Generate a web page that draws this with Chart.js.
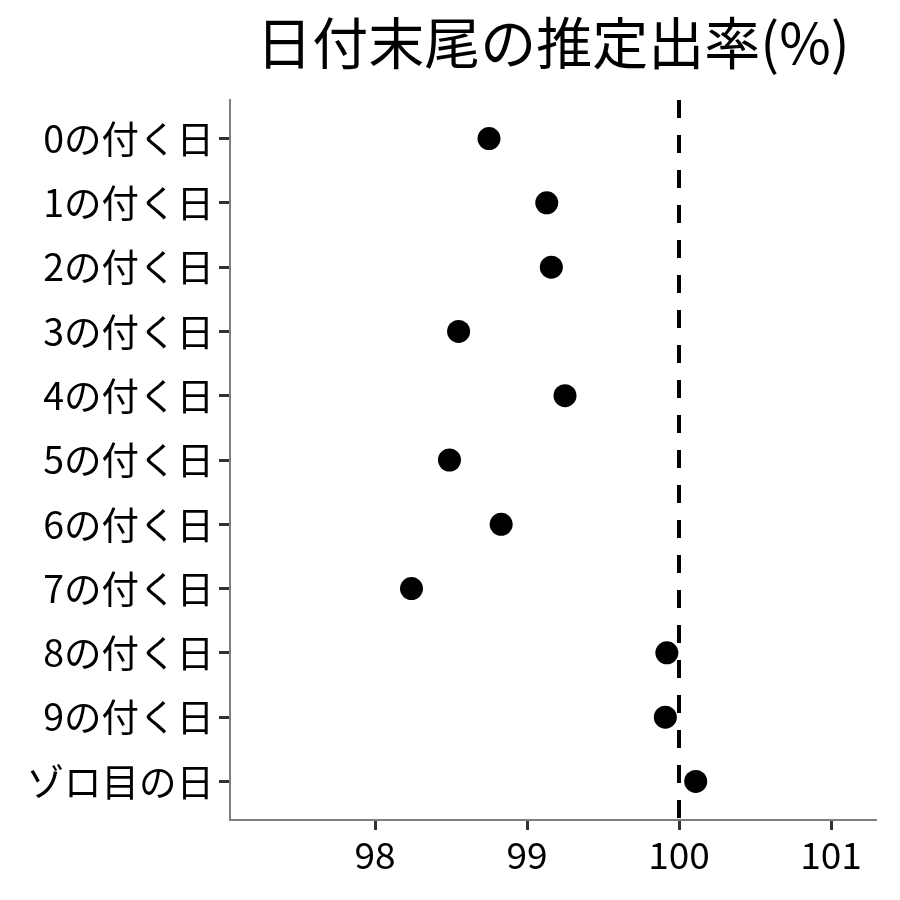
<!DOCTYPE html>
<html>
<head>
<meta charset="utf-8">
<script src="https://cdn.jsdelivr.net/npm/chart.js@4/dist/chart.umd.min.js"></script>
<style>
  html, body { margin: 0; padding: 0; background: #fff; }
  #chart { display: block; }
</style>
</head>
<body>
<canvas id="chart" width="900" height="900"></canvas>
<script>
var dayLabels = ["0の付く日", "1の付く日", "2の付く日", "3の付く日", "4の付く日", "5の付く日",
                 "6の付く日", "7の付く日", "8の付く日", "9の付く日", "ゾロ目の日"];
var payoutRates = [98.75, 99.13, 99.16, 98.55, 99.25, 98.49, 98.83, 98.24, 99.92, 99.91, 100.11];
var xTicks = [98, 99, 100, 101];
var refLine = 100;

var fontFamily = "'Noto Sans CJK JP', 'Noto Sans', sans-serif";

var points = payoutRates.map((v, i) => ({ x: v, y: i }));

new Chart(document.getElementById("chart").getContext("2d"), {
    type: "scatter",
    data: {
        datasets: [{
            data: points,
            backgroundColor: "#000",
            borderWidth: 0,
            pointRadius: 11.5,
            pointHoverRadius: 11.5,
            order: 1
        }, {
            type: "line",
            data: [{ x: refLine, y: -0.6 }, { x: refLine, y: 10.6 }],
            borderColor: "#000",
            borderWidth: 4,
            borderDash: [18, 17],
            pointRadius: 0,
            fill: false,
            order: 2
        }]
    },
    options: {
        responsive: false,
        animation: false,
        layout: {
            padding: { left: 0, right: 24, top: 0, bottom: 0 }
        },
        plugins: {
            legend: { display: false },
            tooltip: { enabled: false },
            title: {
                display: true,
                text: "日付末尾の推定出率(%)",
                fullSize: false,
                color: "#000",
                font: { family: fontFamily, size: 56, weight: "normal", lineHeight: 1.2 },
                padding: { top: 9, bottom: 23.8 }
            }
        },
        scales: {
            x: {
                type: "linear",
                min: 97.046,
                max: 101.296,
                afterBuildTicks: (scale) => {
                    scale.ticks = xTicks.map((v) => ({ value: v }));
                },
                afterFit: (scale) => { scale.height = 80; },
                grid: {
                    drawOnChartArea: false,
                    drawTicks: true,
                    tickLength: 10,
                    tickColor: "#333",
                    tickWidth: 3
                },
                border: { color: "#7f7f7f", width: 2 },
                ticks: {
                    color: "#000",
                    padding: 3,
                    font: { family: fontFamily, size: 37 },
                    callback: (v) => v
                }
            },
            y: {
                type: "linear",
                min: -0.6,
                max: 10.6,
                reverse: true,
                afterBuildTicks: (scale) => {
                    scale.ticks = dayLabels.map((_, i) => ({ value: i }));
                },
                afterFit: (scale) => { scale.width = 230; },
                grid: {
                    drawOnChartArea: false,
                    drawTicks: true,
                    tickLength: 11,
                    tickColor: "#333",
                    tickWidth: 3
                },
                border: { color: "#7f7f7f", width: 2 },
                ticks: {
                    color: "#000",
                    padding: 5,
                    font: { family: fontFamily, size: 37.5 },
                    callback: (v) => dayLabels[v]
                }
            }
        }
    }
});
</script>
</body>
</html>
